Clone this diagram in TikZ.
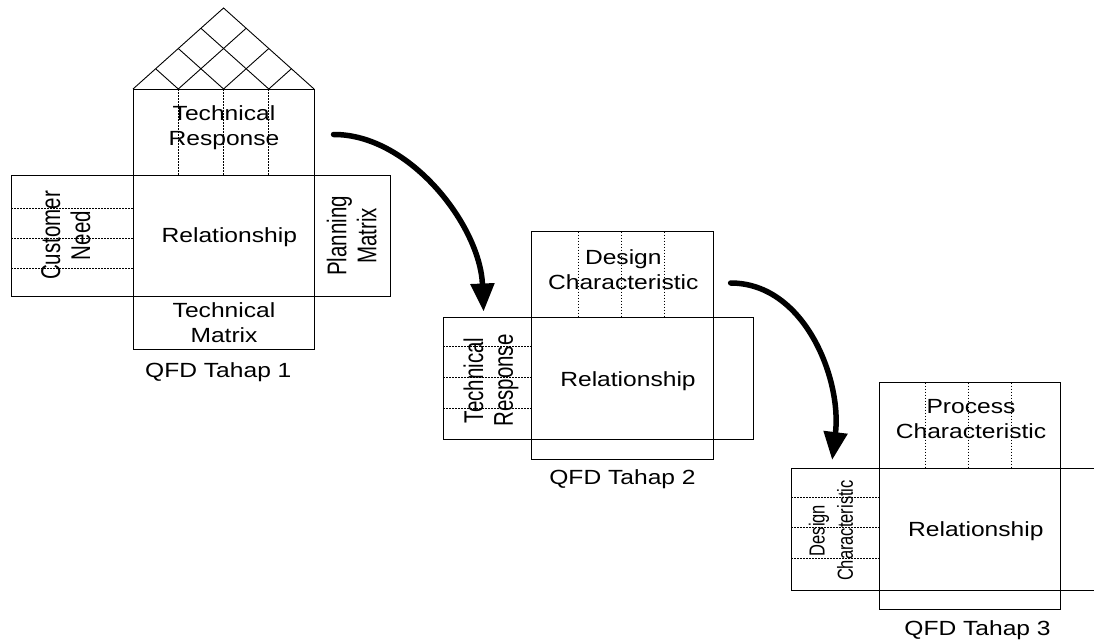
\documentclass[tikz,border=0pt]{standalone}
\usepackage{fontspec}
\setmainfont{Liberation Sans}
\usetikzlibrary{arrows.meta,calc}
\begin{document}
\begin{tikzpicture}[x=0.8333333pt, y=-1pt, xscale=1.2, transform shape,
  box/.style={draw=black, line width=1pt},
  grid/.style={draw=black, line width=0.8pt, dash pattern=on 1.5pt off 1.5pt},
  roof/.style={draw=black, line width=0.9pt, line join=miter},
  lbl/.style={inner sep=0pt, align=center, font=\fontsize{20.5}{24.8}\selectfont},
  vlbl/.style={inner sep=0pt, align=center, rotate=90, yscale=1.1, font=\fontsize{20.5}{22.7}\selectfont},
  smalllbl/.style={font=\fontsize{16.5}{21.5}\selectfont},
  flow/.style={line width=5.5pt, line cap=round, -{Triangle[length=28pt,width=23pt]}}]
\useasboundingbox (0,0) rectangle (1094,642);
\fill[white] (0,0) rectangle (1094,642);

% ---------- QFD Tahap 1 ----------
\coordinate (L) at (133,89);
\coordinate (R) at (314,89);
\coordinate (A) at (223.5,8);
\draw[roof] (L) -- (A) -- (R);
\foreach \t in {0.25,0.5,0.75}{
  \draw[roof] ($(L)!\t!(R)$) -- ($(R)!{1-\t}!(A)$);
  \draw[roof] ($(L)!\t!(R)$) -- ($(L)!\t!(A)$);
}
\draw[box] (133,89) rectangle (314,175);
\foreach \x in {178.25,223.5,268.75} \draw[grid] (\x,89) -- (\x,175);
\draw[box] (11,175) rectangle (133,296);
\foreach \y in {208,238,268} \draw[grid] (11,\y) -- (133,\y);
\draw[box] (133,175) rectangle (314,296);
\draw[box] (314,175) rectangle (390,296);
\draw[box] (133,296) rectangle (314,349);

\node[lbl] (tr1) at (224,127.5) {Technical\\Response};
\node[lbl] (rel1) at (229.3,237) {Relationship};
\node[vlbl] (cn1) at (65.8,235.5) {Customer\\Need};
\node[vlbl] (pm1) at (351.8,236) {Planning\\Matrix};
\node[lbl] (tm1) at (224,322.7) {Technical\\Matrix};
\node[lbl] (q1) at (218.3,371.7) {QFD Tahap 1};

% ---------- QFD Tahap 2 ----------
\draw[box] (531.7,231.7) rectangle (713.7,317.3);
\foreach \x in {578,621,664} \draw[grid] (\x,231.7) -- (\x,317.3);
\draw[box] (443.3,317.3) rectangle (531.7,439);
\foreach \y in {346.7,377.3,408.3} \draw[grid] (443.3,\y) -- (531.7,\y);
\draw[box] (531.7,317.3) rectangle (713.7,439);
\draw[box] (713.7,317.3) rectangle (753.3,439);
\draw[box] (531.7,439) rectangle (713.7,459);

\node[lbl] (dc2) at (623.3,269.5) {Design\\Characteristic};
\node[vlbl] (tr2) at (491,380.5) {Technical\\Response};
\node[lbl] (rel2) at (628,380.7) {Relationship};
\node[lbl] (q2) at (622.5,479.3) {QFD Tahap 2};

% ---------- QFD Tahap 3 ----------
\draw[box] (879.3,382.7) rectangle (1060.7,468.3);
\foreach \x in {925.7,968.7,1011.7} \draw[grid] (\x,382.7) -- (\x,468.3);
\draw[box] (791,468.3) rectangle (879.3,590);
\foreach \y in {497,527.7,558.7} \draw[grid] (791,\y) -- (879.3,\y);
\draw[box] (879.3,468.3) rectangle (1060.7,590);
\draw[box] (1060.7,468.3) -- (1094,468.3);
\draw[box] (1060.7,590) -- (1094,590);
\draw[box] (879.3,590) rectangle (1060.7,609.3);

\node[lbl] (pc3) at (971,419.2) {Process\\Characteristic};
\node[vlbl, smalllbl] (dc3) at (831,530.5) {Design\\Characteristic};
\node[lbl] (rel3) at (975.8,530.7) {Relationship};
\node[lbl] (q3) at (977.5,630.3) {QFD Tahap 3};

% ---------- arrows ----------
\coordinate (a1s) at (333.5,134.5);
\coordinate (a1e) at (483.5,311.5);
\draw[flow] (a1s) .. controls (409,134) and (480,225) .. (a1e);
\coordinate (a2s) at (730.5,283);
\coordinate (a2e) at (832,460);
\draw[flow] (a2s) .. controls (805,283) and (842,380) .. (a2e);
\end{tikzpicture}
\end{document}
